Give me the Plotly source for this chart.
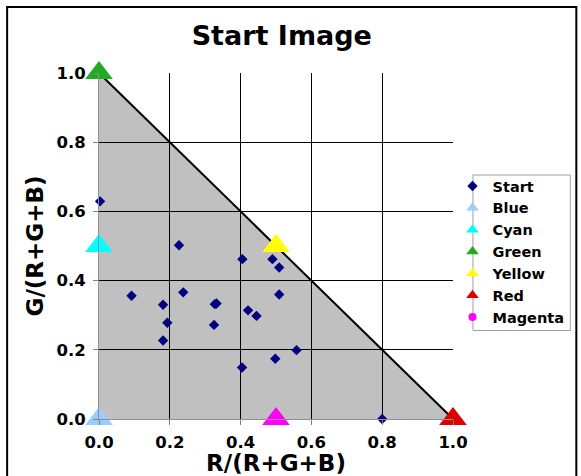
import plotly.graph_objects as go

# ---- data ----
start_r = [0.003, 0.226, 0.092, 0.181, 0.193, 0.181, 0.238, 0.327, 0.332, 0.325,
           0.405, 0.421, 0.445, 0.404, 0.490, 0.509, 0.509, 0.498, 0.558, 0.800]
start_g = [0.629, 0.502, 0.356, 0.330, 0.278, 0.227, 0.366, 0.332, 0.334, 0.272,
           0.462, 0.314, 0.298, 0.149, 0.462, 0.438, 0.360, 0.174, 0.199, 0.000]

ref_names = ["Blue", "Cyan", "Green", "Yellow", "Red", "Magenta"]
ref_r = [0.0, 0.0, 0.0, 0.5, 1.0, 0.5]
ref_g = [0.0, 0.5, 1.0, 0.5, 0.0, 0.0]
ref_colors = ["#99CCFF", "#00FFFF", "#22AA22", "#FFFF00", "#DD0000", "#FF00FF"]
legend_symbols = ["triangle-up", "triangle-up", "triangle-up", "triangle-up", "triangle-up", "circle"]

boundary_r = [0.0, 1.0]
boundary_g = [1.0, 0.0]
ticks = [0.0, 0.2, 0.4, 0.6, 0.8, 1.0]
tick_text = ["0.0", "0.2", "0.4", "0.6", "0.8", "1.0"]

FONT = "DejaVu Sans"

# pixel layout helpers
L, R, T, B = 99, 453.5, 73, 419
PW, PH = R - L, B - T
def px(xp):
    return (xp - L) / PW
def py(yp):
    return (B - yp) / PH

fig = go.Figure()

# boundary line
fig.add_trace(go.Scatter(x=boundary_r, y=boundary_g, mode="lines",
                         line=dict(color="black", width=2), showlegend=False,
                         hoverinfo="skip", cliponaxis=False))

# start points
fig.add_trace(go.Scatter(x=start_r, y=start_g, mode="markers", name="Start",
                         marker=dict(symbol="diamond", color="#000080", size=8),
                         showlegend=False, cliponaxis=False))

# reference triangles
for n, r, g, c in zip(ref_names, ref_r, ref_g, ref_colors):
    fig.add_trace(go.Scatter(x=[r], y=[g], mode="markers", name=n,
                             marker=dict(symbol="triangle-up", color=c, size=24),
                             showlegend=False, cliponaxis=False))

# legend entries
fig.add_trace(go.Scatter(x=[None], y=[None], mode="markers", name="Start",
                         marker=dict(symbol="diamond", color="#000080", size=8)))
for n, c, s in zip(ref_names, ref_colors, legend_symbols):
    fig.add_trace(go.Scatter(x=[None], y=[None], mode="markers", name=n,
                             marker=dict(symbol=s, color=c, size=11 if s != "circle" else 8)))

# gray region under the boundary
path = "M {} {} L {} {} L {} {} Z".format(boundary_r[0], 0, boundary_r[0], boundary_g[0],
                                         boundary_r[1], boundary_g[1])
fig.add_shape(type="path", path=path, xref="x", yref="y",
              fillcolor="#C0C0C0", line=dict(width=0), layer="below")

# outer frame
fig.add_shape(type="rect", xref="paper", yref="paper",
              x0=px(7), x1=px(577), y0=py(490), y1=py(7),
              line=dict(color="black", width=2), fillcolor="rgba(0,0,0,0)", layer="above")
# legend box
fig.add_shape(type="rect", xref="paper", yref="paper",
              x0=px(473.5), x1=px(571), y0=py(330.5), y1=py(175),
              line=dict(color="#A0A0A0", width=1), fillcolor="white", layer="above")

axis_common = dict(range=[0, 1], tickvals=ticks, ticktext=tick_text,
                   showgrid=True, gridcolor="black", gridwidth=1,
                   zeroline=False, showline=True, linecolor="#909090", linewidth=1,
                   ticks="outside", ticklen=5, tickcolor="#808080", automargin=False,
                   tickfont=dict(family=FONT, size=16.5, color="black", weight="bold"))

fig.update_layout(
    width=581, height=476,
    margin=dict(l=L, r=581 - R, t=T, b=476 - B, autoexpand=False),
    paper_bgcolor="white", plot_bgcolor="white",
    title=dict(text="Start Image", x=0.485, xanchor="center", y=0.926, yanchor="middle",
               font=dict(family=FONT, size=27, color="black", weight="bold")),
    xaxis=dict(**axis_common, ticklabelstandoff=3,
               title=dict(text="R/(R+G+B)", standoff=0,
                          font=dict(family=FONT, size=23, color="black", weight="bold"))),
    yaxis=dict(**axis_common, ticklabelstandoff=4,
               title=dict(text="G/(R+G+B)", standoff=6,
                          font=dict(family=FONT, size=23, color="black", weight="bold"))),
    legend=dict(x=px(453), y=py(170), xanchor="left", yanchor="top",
                bgcolor="rgba(0,0,0,0)", borderwidth=0,
                font=dict(family=FONT, size=14.5, color="black", weight="bold"),
                itemsizing="trace", tracegroupgap=0, itemwidth=30),
    showlegend=True,
)

fig.write_html("out.html", config={"displayModeBar": False},
               post_script="document.body.style.margin='0';")
